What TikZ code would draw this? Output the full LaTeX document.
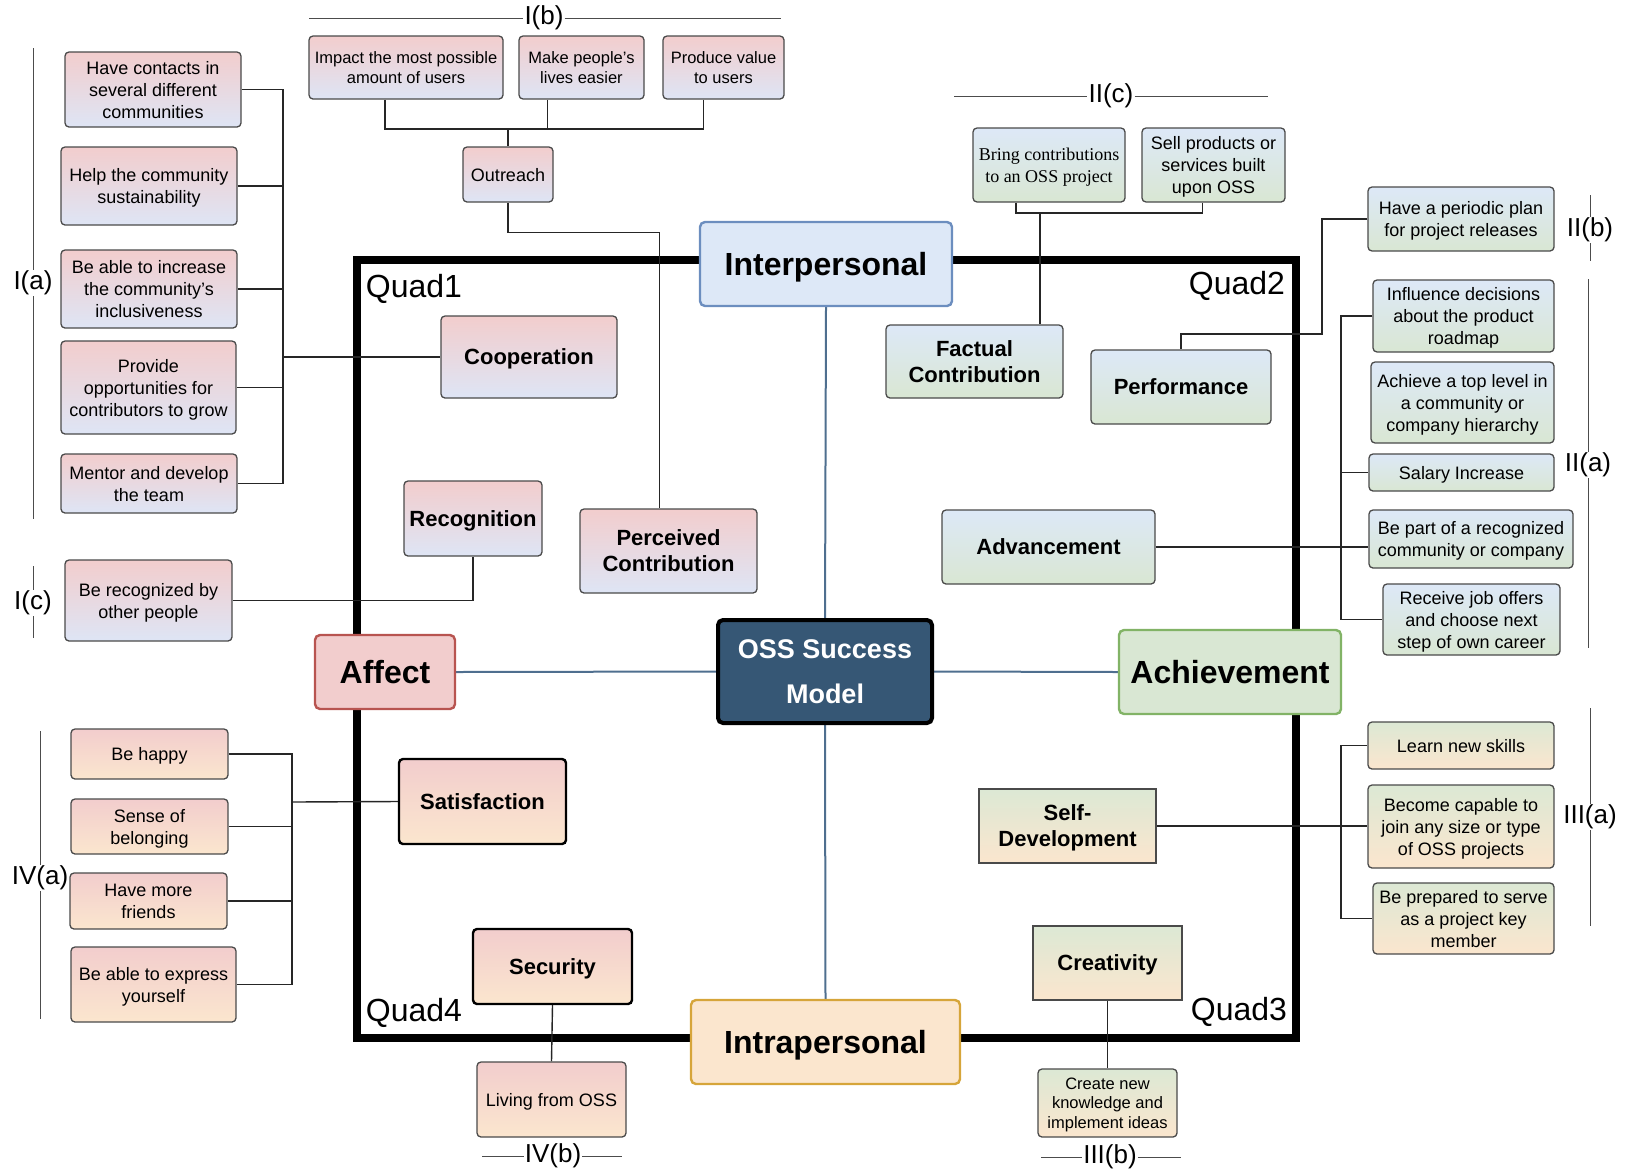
\documentclass[tikz,border=0pt]{standalone}
\usepackage{fontspec}
\setmainfont{Liberation Sans}
\newfontfamily\timesbox{Liberation Serif}
\usetikzlibrary{calc}
\pgfdeclarelayer{bg}
\pgfsetlayers{bg,main}

\definecolor{pinkT}{HTML}{F2CDCD}
\definecolor{blueB}{HTML}{DEE5F5}
\definecolor{blueT}{HTML}{DDE8F7}
\definecolor{greenB}{HTML}{D9E7D3}
\definecolor{greenT}{HTML}{DCE8D4}
\definecolor{peachB}{HTML}{FBE6CE}
\definecolor{ossfill}{HTML}{365775}
\definecolor{axisblue}{HTML}{4F6F8F}
\definecolor{boxline}{HTML}{4A4A4A}
\definecolor{affectline}{HTML}{B85450}
\definecolor{achieveline}{HTML}{82B366}
\definecolor{interline}{HTML}{6C8EBF}
\definecolor{intraline}{HTML}{D6A53A}

\tikzset{
  wh/.style 2 args={minimum width=#1,minimum height=#2},
  box/.style={draw=boxline,line width=1.3pt,rounded corners=4pt,inner sep=0pt,align=center,
    text depth=0pt,font=\fontsize{18}{22}\selectfont},
  tiny/.style={font=\fontsize{16.5}{19.5}\selectfont},
  mid/.style={font=\fontsize{22}{26}\selectfont\bfseries},
  pinkblue/.style={box,top color=pinkT,bottom color=blueB},
  pinkpeach/.style={box,top color=pinkT,bottom color=peachB},
  bluegreen/.style={box,top color=blueT,bottom color=greenB},
  greenpeach/.style={box,top color=greenT,bottom color=peachB},
  big/.style={line width=2.4pt,rounded corners=5pt,inner sep=0pt,align=center,text depth=0pt,
    font=\fontsize{32}{38}\selectfont\bfseries},
  quad/.style={font=\fontsize{32}{38}\selectfont,inner sep=0pt},
  tag/.style={font=\fontsize{26}{30}\selectfont,inner sep=1pt},
  link/.style={draw=black!85,line width=1.4pt},
  bar/.style={draw=black!70,line width=1pt},
}

\begin{document}
\begin{tikzpicture}[x=1pt,y=-1pt]
\useasboundingbox (0,0) rectangle (1630,1171);

% centre and dimensions
\node[big,draw=black,line width=4pt,fill=ossfill,text=white,font=\fontsize{27}{45}\selectfont\bfseries,wh={214}{103}] (oss) at (825,671.5) {OSS Success\\Model};
\node[big,draw=interline,fill=blueT,wh={252}{84}] (inter) at (826,264) {Interpersonal};
\node[big,draw=intraline,fill=peachB,wh={269}{84}] (intra) at (825.5,1042) {Intrapersonal};
\node[big,draw=affectline,fill=pinkT,wh={140}{74}] (affect) at (385,672) {Affect};
\node[big,draw=achieveline,fill=greenB,wh={222}{84}] (achieve) at (1230,672) {Achievement};

\node[quad] (q1) at (414,289) {Quad1};
\node[quad] (q2) at (1237,286) {Quad2};
\node[quad] (q3) at (1239,1012) {Quad3};
\node[quad] (q4) at (414,1013) {Quad4};

% Quad1
\node[pinkblue,mid,wh={176}{82}] (coop) at (529,357) {Cooperation};
\node[pinkblue,mid,wh={138}{75}] (recog) at (473,518.5) {Recognition};
\node[pinkblue,mid,wh={177}{84}] (perceived) at (668.5,551) {Perceived\\Contribution};
\node[pinkblue,wh={176}{75}] (contacts) at (153,89.5) {Have contacts in\\several different\\communities};
\node[pinkblue,wh={176}{78}] (sustain) at (149,186) {Help the community\\sustainability};
\node[pinkblue,wh={176}{78}] (inclusive) at (149,289) {Be able to increase\\the community's\\inclusiveness};
\node[pinkblue,wh={175}{93}] (grow) at (148.5,387.5) {Provide\\opportunities for\\contributors to grow};
\node[pinkblue,wh={176}{59}] (mentor) at (149,483.5) {Mentor and develop\\the team};
\node[pinkblue,wh={167}{81}] (others) at (148.5,600.5) {Be recognized by\\other people};
\node[pinkblue,tiny,wh={194}{63}] (impact) at (406,67.5) {Impact the most possible\\amount of users};
\node[pinkblue,tiny,wh={125}{63}] (easier) at (581.5,67.5) {Make people's\\lives easier};
\node[pinkblue,tiny,wh={121}{63}] (value) at (723.5,67.5) {Produce value\\to users};
\node[pinkblue,wh={90}{55}] (outreach) at (508,174.5) {Outreach};

% Quad2
\node[bluegreen,mid,wh={177}{73}] (fact) at (974.5,361.5) {Factual\\Contribution};
\node[bluegreen,mid,wh={180}{74}] (perf) at (1181,387) {Performance};
\node[bluegreen,mid,wh={213}{74}] (adv) at (1048.5,547) {Advancement};
\node[bluegreen,font=\timesbox\fontsize{18}{22}\selectfont,wh={152}{74}] (bring) at (1049,165) {Bring contributions\\to an OSS project};
\node[bluegreen,wh={143}{74}] (sell) at (1213.5,165) {Sell products or\\services built\\upon OSS};
\node[bluegreen,wh={186}{64}] (plan) at (1461,219) {Have a periodic plan\\for project releases};
\node[bluegreen,wh={181}{72}] (roadmap) at (1463.5,316) {Influence decisions\\about the product\\roadmap};
\node[bluegreen,wh={183}{81}] (toplevel) at (1462.5,402.5) {Achieve a top level in\\a community or\\company hierarchy};
\node[bluegreen,wh={185}{37}] (salary) at (1461.5,472.5) {Salary Increase};
\node[bluegreen,wh={204}{58}] (recogcomp) at (1471,539) {Be part of a recognized\\community or company};
\node[bluegreen,wh={177}{71}] (offers) at (1471.5,619.5) {Receive job offers\\and choose next\\step of own career};

% Quad3
\node[greenpeach,mid,rounded corners=0pt,wh={177}{74}] (selfdev) at (1067.5,826) {Self-\\Development};
\node[greenpeach,mid,rounded corners=0pt,wh={149}{74}] (creat) at (1107.5,963) {Creativity};
\node[greenpeach,wh={186}{47}] (skills) at (1461,745.5) {Learn new skills};
\node[greenpeach,wh={186}{83}] (capable) at (1461,826.5) {Become capable to\\join any size or type\\of OSS projects};
\node[greenpeach,wh={181}{71}] (keymember) at (1463.5,918.5) {Be prepared to serve\\as a project key\\member};
\node[greenpeach,tiny,wh={139}{68}] (ideas) at (1107.5,1103) {Create new\\knowledge and\\implement ideas};

% Quad4
\node[pinkpeach,mid,draw=black,line width=2.4pt,wh={167}{85}] (satis) at (482.5,801.5) {Satisfaction};
\node[pinkpeach,mid,draw=black,line width=2.4pt,wh={159}{75}] (secur) at (552.5,966.5) {Security};
\node[pinkpeach,wh={157}{50}] (happy) at (149.5,754) {Be happy};
\node[pinkpeach,wh={157}{55}] (belong) at (149.5,826.5) {Sense of\\belonging};
\node[pinkpeach,wh={157}{56}] (friends) at (148.5,901) {Have more\\friends};
\node[pinkpeach,wh={165}{75}] (express) at (153.5,984.5) {Be able to express\\yourself};
\node[pinkpeach,wh={149}{75}] (living) at (551.5,1099.5) {Living from OSS};

% group tags
\node[tag] (tIa) at (33,283) {I(a)};
\node[tag] (tIb) at (544,18) {I(b)};
\node[tag] (tIc) at (33,603) {I(c)};
\node[tag] (tIIa) at (1588,465) {II(a)};
\node[tag] (tIIb) at (1590,230) {II(b)};
\node[tag] (tIIc) at (1111,96) {II(c)};
\node[tag] (tIIIa) at (1590,817) {III(a)};
\node[tag] (tIIIb) at (1110,1157) {III(b)};
\node[tag] (tIVa) at (40,878) {IV(a)};
\node[tag] (tIVb) at (553,1156) {IV(b)};

\coordinate (tIa1) at (33,48);    \coordinate (tIa2) at (33,519);
\coordinate (tIb1) at (309,18);   \coordinate (tIb2) at (781,18);
\coordinate (tIc1) at (33,566);   \coordinate (tIc2) at (33,638);
\coordinate (tIIa1) at (1588,279); \coordinate (tIIa2) at (1588,648);
\coordinate (tIIb1) at (1590,195); \coordinate (tIIb2) at (1590,261);
\coordinate (tIIc1) at (954,96);  \coordinate (tIIc2) at (1268,96);
\coordinate (tIIIa1) at (1590,708); \coordinate (tIIIa2) at (1590,926);
\coordinate (tIIIb1) at (1041,1157); \coordinate (tIIIb2) at (1181,1157);
\coordinate (tIVa1) at (40,731);  \coordinate (tIVa2) at (40,1019);
\coordinate (tIVb1) at (482,1156); \coordinate (tIVb2) at (622,1156);

\foreach \t in {Ia,Ib,Ic,IIa,IIb,IIc,IIIa,IIIb,IVa,IVb}
  \draw[bar] (t\t1) -- (t\t) -- (t\t2);

\begin{pgfonlayer}{bg}
  \draw[line width=8.5pt] (357,260) rectangle (1296,1038);
  \draw[axisblue,line width=2pt] (inter.south) -- (oss.north) (oss.south) -- (intra.north)
    (affect.east) -- (oss.west) (oss.east) -- (achieve.west);
  % I(a)
  \coordinate (ja) at (283,357);
  \foreach \n in {contacts,sustain,inclusive,grow,mentor}
    \draw[link] (\n.east) -| (ja);
  \draw[link] (ja) -- (coop.west);
  % I(b)
  \coordinate (jb) at (508,129);
  \draw[link] ([xshift=-21pt]impact.south) |- (jb);
  \draw[link] ([xshift=-34pt]easier.south) |- (jb);
  \draw[link] ([xshift=-20pt]value.south) |- (jb);
  \draw[link] (jb) -- (outreach.north);
  \draw[link] (outreach.south) -- ++(0,30) -| ([xshift=-9pt]perceived.north);
  % I(c)
  \draw[link] (recog.south) |- (others.east);
  % II(c)
  \coordinate (jc) at (1040,213);
  \draw[link] ([xshift=-33pt]bring.south) |- (jc);
  \draw[link] ([xshift=-11pt]sell.south) |- (jc);
  \draw[link] (jc) -- (jc |- fact.north);
  % II(b)
  \coordinate (jd) at (1322,334);
  \draw[link] (plan.west) -| (jd) -| (perf.north);
  % II(a)
  \coordinate (je) at (1341,547);
  \foreach \n in {roadmap,salary,offers}
    \draw[link] (\n.west) -| (je);
  \draw[link] (adv.east) -- (adv.east -| recogcomp.west);
  % III(a)
  \coordinate (jf) at (1341,826);
  \foreach \n in {skills,keymember}
    \draw[link] (\n.west) -| (jf);
  \draw[link] (selfdev.east) -- (selfdev.east -| capable.west);
  % III(b), IV(b)
  \draw[link] (creat.south) -- (ideas.north);
  \draw[link] (secur.south) -- (living.north);
  % IV(a)
  \coordinate (jg) at (292,802);
  \foreach \n in {happy,belong,friends,express}
    \draw[link] (\n.east) -| (jg);
  \draw[link] (jg) -- (satis.west);
\end{pgfonlayer}
\end{tikzpicture}
\end{document}
